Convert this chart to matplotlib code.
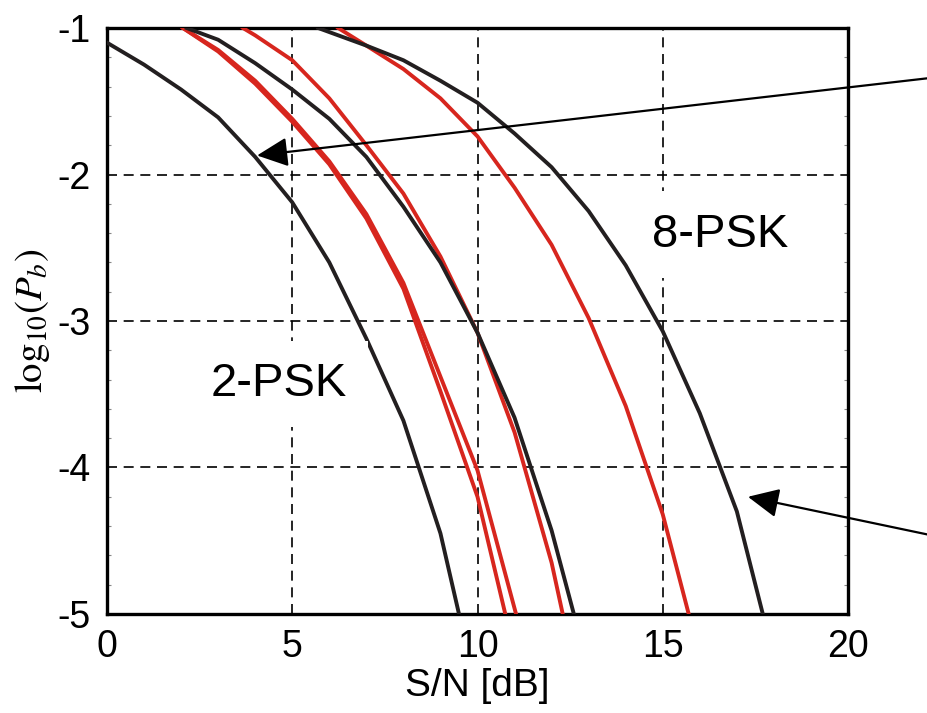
import matplotlib
matplotlib.use("Agg")
import matplotlib.pyplot as plt
from matplotlib.ticker import MultipleLocator

plt.rcParams["font.family"] = ["Liberation Sans", "DejaVu Sans"]
plt.rcParams["mathtext.fontset"] = "stix"

# --- curves (S/N in dB, log10 of Pb)
psk2_x = [0, 1, 2, 3, 4, 5, 6, 7, 8, 9, 9.5]
psk2_y = [-1.10, -1.25, -1.42, -1.61, -1.88, -2.19, -2.60, -3.12, -3.68, -4.45, -5.0]

red_a_x = [2.05, 3, 4, 5, 6, 7, 8, 9, 10, 10.75]
red_a_y = [-1.0, -1.16, -1.38, -1.64, -1.93, -2.30, -2.78, -3.48, -4.20, -5.0]

red_b_x = [2.05, 3, 4, 5, 6, 7, 8, 9, 10, 11.04]
red_b_y = [-1.0, -1.15, -1.36, -1.62, -1.91, -2.27, -2.74, -3.38, -4.02, -5.0]

psk4_x = [2.15, 3, 4, 5, 6, 7, 8, 9, 10, 11, 12, 12.6]
psk4_y = [-1.0, -1.08, -1.24, -1.42, -1.62, -1.88, -2.22, -2.60, -3.08, -3.66, -4.43, -5.0]

red_c_x = [3.67, 4, 5, 6, 7, 8, 9, 10, 11, 12, 12.3]
red_c_y = [-1.0, -1.05, -1.22, -1.48, -1.80, -2.13, -2.56, -3.08, -3.76, -4.65, -5.0]

psk8_x = [5.7, 7, 8, 9, 10, 11, 12, 13, 14, 15, 16, 17, 17.7]
psk8_y = [-1.0, -1.12, -1.22, -1.36, -1.51, -1.72, -1.95, -2.25, -2.62, -3.07, -3.63, -4.30, -5.0]

red_d_x = [6.24, 7, 8, 9, 10, 11, 12, 13, 14, 15, 15.7]
red_d_y = [-1.0, -1.12, -1.28, -1.48, -1.74, -2.09, -2.48, -2.98, -3.58, -4.32, -5.0]

x_ticks = [0, 5, 10, 15, 20]
y_ticks = [-1, -2, -3, -4, -5]

black = "#231f20"
red = "#d7261e"

fig = plt.figure(figsize=(9.28, 7.13), dpi=100)
ax = fig.add_axes([0.1153, 0.1389, 0.7985, 0.8218])

for xs, ys in [(red_a_x, red_a_y), (red_b_x, red_b_y), (red_c_x, red_c_y), (red_d_x, red_d_y)]:
    ax.plot(xs, ys, color=red, lw=2.8, solid_joinstyle="miter", zorder=3)
for xs, ys in [(psk2_x, psk2_y), (psk4_x, psk4_y), (psk8_x, psk8_y)]:
    ax.plot(xs, ys, color=black, lw=2.8, solid_joinstyle="miter", zorder=4)

ax.set_xlim(0, 20)
ax.set_ylim(-5, -1)
ax.set_xticks(x_ticks)
ax.set_yticks(y_ticks)
ax.set_xticklabels([str(v) for v in x_ticks], fontsize=27)
ax.set_yticklabels([str(v) for v in y_ticks], fontsize=27)
ax.yaxis.set_minor_locator(MultipleLocator(0.2))
ax.tick_params(which="major", length=0)
ax.tick_params(axis="y", pad=12)
ax.tick_params(axis="x", pad=11)
ax.tick_params(which="minor", axis="y", left=True, right=True, direction="in",
               length=3, width=0.8, color="#888888")
ax.grid(True, which="major", color="black", lw=1.2, linestyle=(0, (6, 4)))
ax.set_axisbelow(True)
for sp in ax.spines.values():
    sp.set_linewidth(2.4)
    sp.set_color("black")

ax.set_xlabel("S/N [dB]", fontsize=28, labelpad=2)
ax.set_ylabel(r"$\mathrm{log}_{10}(P_b)$", fontsize=28, labelpad=4)

# white boxes break the dashed grid around the labels
box = dict(boxstyle="square,pad=0.45", fc="white", ec="none")
ax.text(4.64, -3.43, "2-PSK", fontsize=34, ha="center", va="center", bbox=box, zorder=5)
ax.text(16.55, -2.41, "8-PSK", fontsize=34, ha="center", va="center", bbox=box, zorder=2.5)

arrow = dict(arrowstyle="-|>,head_length=0.95,head_width=0.45", mutation_scale=20,
             color="black", lw=1.6, shrinkA=0, shrinkB=0)
ax.annotate("", xy=(4.05, -1.87), xytext=(930, 635), textcoords="figure pixels",
            arrowprops=arrow, annotation_clip=False, zorder=6)
ax.annotate("", xy=(17.3, -4.20), xytext=(930, 178), textcoords="figure pixels",
            arrowprops=arrow, annotation_clip=False, zorder=6)

fig.savefig("out.png", dpi=100)
